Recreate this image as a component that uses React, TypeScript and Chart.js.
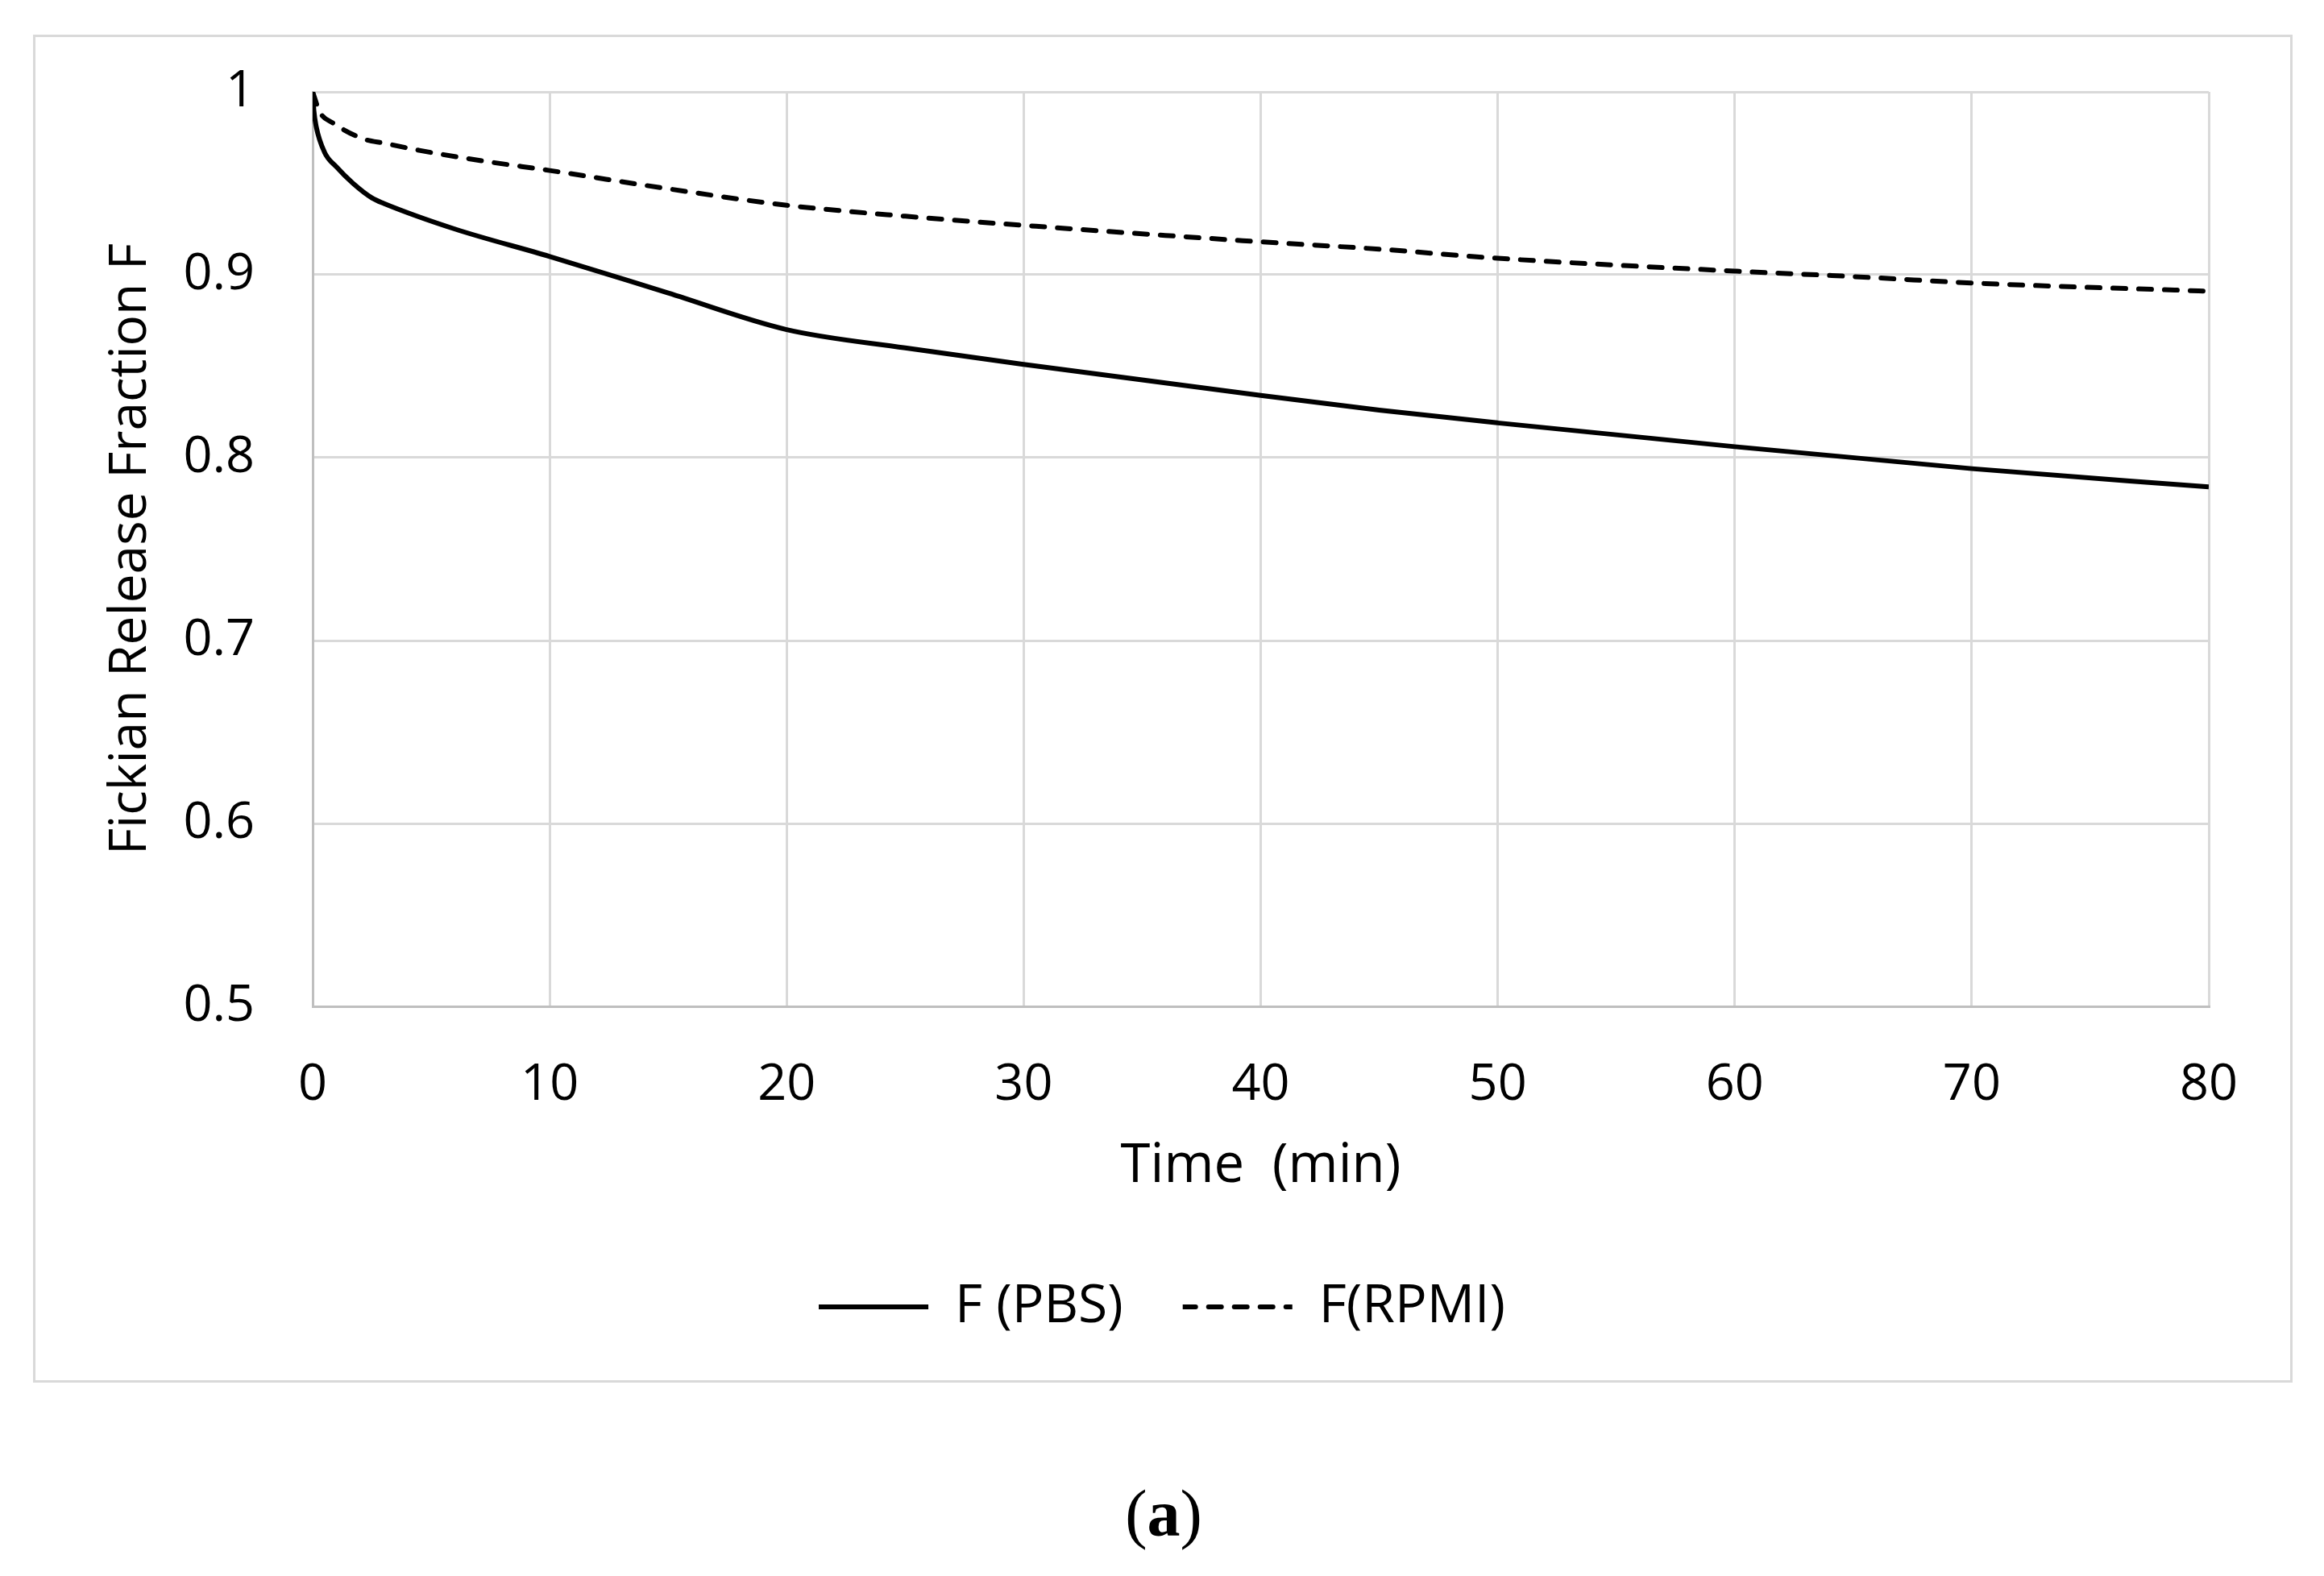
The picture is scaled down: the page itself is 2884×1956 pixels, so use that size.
import React, { useEffect, useRef } from "react";
import { Chart, registerables } from "chart.js";

Chart.register(...registerables);

// ---- data ----
const timePBS = [0, 0.05, 0.15, 0.5, 1, 1.7, 2.5, 3, 6, 10, 15, 20, 25, 30, 40, 45, 50, 60, 70, 80];
const fPBS = [1.0, 0.99, 0.981, 0.967, 0.959, 0.95, 0.942, 0.939, 0.925, 0.91, 0.89, 0.87, 0.86, 0.851, 0.834, 0.826, 0.819, 0.806, 0.794, 0.784];

const timeRPMI = [0, 0.3, 0.85, 2.2, 3, 4.5, 7.3, 10, 15, 20, 25, 30, 40, 45, 50, 60, 65, 70, 80];
const fRPMI = [1.0, 0.989, 0.983, 0.974, 0.972, 0.968, 0.962, 0.957, 0.947, 0.938, 0.932, 0.927, 0.918, 0.914, 0.909, 0.902, 0.899, 0.8955, 0.891];

const seriesLabels = ["F (PBS)", "F(RPMI)"];
const xTickValues = [0, 10, 20, 30, 40, 50, 60, 70, 80];
const yTickValues = [0.5, 0.6, 0.7, 0.8, 0.9, 1.0];
const yTickLabels = ["0.5", "0.6", "0.7", "0.8", "0.9", "1"];
const xTitle = "Time  (min)";
const yTitle = "Fickian Release Fraction F";
const captionLetter = "a";

const W = 2884;
const H = 1956;
const FONT = "'Open Sans'";
const TEXT = "#000000";

export default function App() {
  const ref = useRef<HTMLCanvasElement | null>(null);

  useEffect(() => {
    if (!ref.current) return;
    const framePlugin = {
      id: "frame",
      beforeDraw(chart: any) {
        const ctx = chart.ctx;
        ctx.save();
        ctx.fillStyle = "#ffffff";
        ctx.fillRect(0, 0, chart.width, chart.height);
        ctx.strokeStyle = "#d9d9d9";
        ctx.lineWidth = 3;
        ctx.strokeRect(42.5, 44.5, 2801, 1670);
        ctx.restore();
      },
    };

    const chart = new Chart(ref.current, {
      type: "line",
      data: {
        datasets: [
          {
            label: seriesLabels[0],
            data: timePBS.map((t, i) => ({ x: t, y: fPBS[i] })),
            borderColor: "#000000",
            backgroundColor: "rgba(0,0,0,0)",
            borderWidth: 6,
            pointRadius: 0,
            pointHoverRadius: 0,
            cubicInterpolationMode: "monotone",
            fill: false,
          },
          {
            label: seriesLabels[1],
            data: timeRPMI.map((t, i) => ({ x: t, y: fRPMI[i] })),
            borderColor: "#000000",
            backgroundColor: "rgba(0,0,0,0)",
            borderWidth: 6,
            borderDash: [16, 16],
            borderCapStyle: "round",
            pointRadius: 0,
            pointHoverRadius: 0,
            cubicInterpolationMode: "monotone",
            fill: false,
          },
        ],
      },
      options: {
        responsive: false,
        animation: false,
        devicePixelRatio: 1,
        events: [],
        layout: { padding: { left: 20, right: 20, top: 114, bottom: 291 } },
        scales: {
          x: {
            type: "linear",
            min: 0,
            max: 80,
            afterBuildTicks: (s: any) => {
              s.ticks = xTickValues.map((v) => ({ value: v }));
            },
            afterFit: (s: any) => {
              s.height = 266;
            },
            grid: { color: "#d9d9d9", lineWidth: 3, drawTicks: false },
            border: { display: true, color: "#bfbfbf", width: 3 },
            ticks: {
              font: { family: FONT, size: 63 },
              color: TEXT,
              padding: 60,
              maxRotation: 0,
            },
            title: {
              display: true,
              text: xTitle,
              font: { family: FONT, size: 67 },
              color: TEXT,
              padding: { top: 0, bottom: 27 },
            },
          },
          y: {
            type: "linear",
            min: 0.5,
            max: 1.0,
            afterBuildTicks: (s: any) => {
              s.ticks = yTickValues.map((v) => ({ value: v }));
            },
            afterFit: (s: any) => {
              s.width = 368;
            },
            grid: { color: "#d9d9d9", lineWidth: 3, drawTicks: false },
            border: { display: true, color: "#bfbfbf", width: 3 },
            ticks: {
              font: { family: FONT, size: 63 },
              color: TEXT,
              padding: 72,
              callback: (_v: any, i: number) => yTickLabels[i],
            },
            title: {
              display: true,
              text: yTitle,
              font: { family: FONT, size: 64 },
              color: TEXT,
              padding: { top: 104, bottom: 0 },
            },
          },
          y2: {
            type: "linear",
            position: "right",
            display: true,
            grid: { display: false },
            border: { display: false },
            ticks: { display: false },
            afterFit: (s: any) => {
              s.width = 123;
            },
          },
        },
        plugins: {
          legend: {
            position: "bottom",
            labels: {
              font: { family: FONT, size: 66 },
              color: TEXT,
              usePointStyle: false,
              boxWidth: 136,
              boxHeight: 0,
              padding: 74,
            },
          },
          tooltip: { enabled: false },
          title: { display: false },
        },
      },
      plugins: [framePlugin],
    } as any);

    return () => chart.destroy();
  }, []);

  return (
    <div style={{ position: "absolute", left: 0, top: 0, width: W, height: H, background: "#fff" }}>
      <canvas ref={ref} width={W} height={H} style={{ position: "absolute", left: 0, top: 0, width: W, height: H }} />
      <div
        style={{
          position: "absolute",
          left: 1344,
          top: 1838,
          width: 200,
          textAlign: "center",
          fontFamily: "'Liberation Serif', 'Times New Roman', serif",
          fontSize: 82,
          lineHeight: "82px",
          color: "#000",
        }}
      >
        (<b>{captionLetter}</b>)
      </div>
    </div>
  );
}
